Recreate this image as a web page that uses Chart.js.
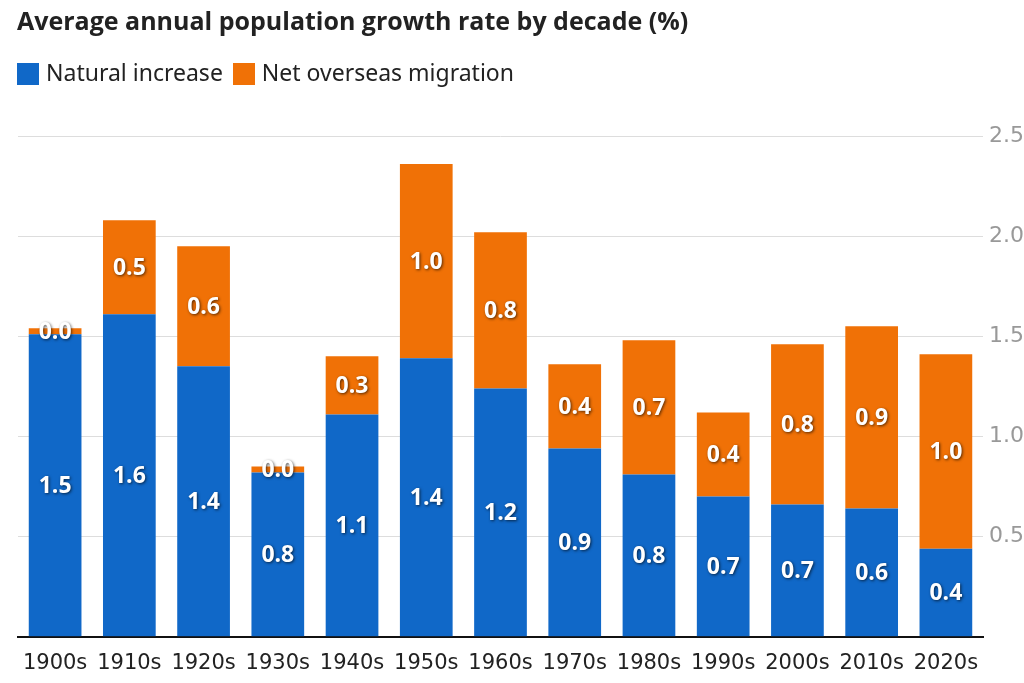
<!DOCTYPE html>
<html>
<head>
<meta charset="utf-8">
<script src="https://cdn.jsdelivr.net/npm/chart.js@4.4.0/dist/chart.umd.min.js"></script>
<style>
  html, body { margin: 0; padding: 0; background: #fff; }
  #wrap { position: relative; width: 1024px; height: 683px; }
  #growthChart { position: absolute; left: 0; top: 0; }
  .title { position: absolute; left: 17px; top: 3px; font: bold 25px "Open Sans", sans-serif; color: #222; white-space: nowrap; }
  .legend { position: absolute; left: 17px; top: 56px; font: 23px "Noto Sans", sans-serif; color: #222; white-space: nowrap; }
  .legend span.box { display: inline-block; width: 22px; height: 22px; vertical-align: -4px; margin-right: 7px; }
  .legend span.item { margin-right: 10px; }
</style>
</head>
<body>
<div id="wrap">
  <canvas id="growthChart" width="1024" height="683"></canvas>
  <div class="title">Average annual population growth rate by decade (%)</div>
  <div class="legend" id="legend"></div>
</div>
<script>
// Datos
const decades = ['1900s', '1910s', '1920s', '1930s', '1940s', '1950s', '1960s',
                 '1970s', '1980s', '1990s', '2000s', '2010s', '2020s'];
const naturalIncrease = [1.51, 1.61, 1.35, 0.82, 1.11, 1.39, 1.24, 0.94, 0.81, 0.70, 0.66, 0.64, 0.44];
const netMigration = [0.03, 0.47, 0.60, 0.03, 0.29, 0.97, 0.78, 0.42, 0.67, 0.42, 0.80, 0.91, 0.97];
const seriesNames = ['Natural increase', 'Net overseas migration'];
const yTicks = [0.5, 1.0, 1.5, 2.0, 2.5];

const BLUE = '#1068c8';
const ORANGE = '#f07106';

/**
 * Etiquetas blancas centradas en cada segmento
 */
const segmentLabels = {
    id: 'segmentLabels',
    afterDatasetsDraw(chart) {
        const ctx = chart.ctx;
        ctx.save();
        ctx.font = 'bold 23px "Open Sans", sans-serif';
        ctx.textAlign = 'center';
        ctx.textBaseline = 'middle';
        chart.data.datasets.forEach((ds, i) => {
            chart.getDatasetMeta(i).data.forEach((bar, j) => {
                const { x, y, base } = bar.getProps(['x', 'y', 'base'], true);
                const text = ds.data[j].toFixed(1);
                const cy = (y + base) / 2 + 1;
                ctx.shadowColor = 'rgba(0,0,0,0.65)';
                ctx.shadowBlur = 3;
                ctx.shadowOffsetX = 1;
                ctx.shadowOffsetY = 1;
                ctx.fillStyle = '#fff';
                ctx.fillText(text, x, cy);
            });
        });
        ctx.restore();
    }
};

const chart = new Chart(document.getElementById('growthChart'), {
    type: 'bar',
    data: {
        labels: decades,
        datasets: [
            { label: seriesNames[0], data: naturalIncrease, backgroundColor: BLUE },
            { label: seriesNames[1], data: netMigration, backgroundColor: ORANGE }
        ]
    },
    options: {
        responsive: false,
        animation: false,
        devicePixelRatio: 1,
        layout: { padding: { left: 18, right: 0, top: 136, bottom: 1 } },
        datasets: {
            bar: { categoryPercentage: 1.0, barPercentage: 0.71 }
        },
        plugins: {
            legend: { display: false },
            tooltip: { enabled: false }
        },
        scales: {
            x: {
                stacked: true,
                grid: { display: false },
                border: { display: true, color: '#111', width: 2 },
                ticks: {
                    color: '#222',
                    font: { family: '"DejaVu Sans", sans-serif', size: 21 },
                    maxRotation: 0,
                    autoSkip: false,
                    padding: 6
                }
            },
            y: {
                stacked: true,
                position: 'right',
                min: 0,
                max: 2.5,
                afterBuildTicks(axis) {
                    axis.ticks = [0].concat(yTicks).map(v => ({ value: v }));
                },
                afterFit(axis) {
                    axis.width = 41;
                },
                border: { display: false },
                grid: {
                    drawTicks: false,
                    color: c => c.tick.value === 0 ? 'rgba(0,0,0,0)' : '#dddddd',
                    lineWidth: 1
                },
                ticks: {
                    color: '#999',
                    padding: 6,
                    font: { family: '"DejaVu Sans", sans-serif', size: 22 },
                    callback: v => v === 0 ? '' : v.toFixed(1)
                }
            }
        }
    },
    plugins: [segmentLabels]
});

// Leyenda en HTML a partir de los datasets
const legendEl = document.getElementById('legend');
chart.data.datasets.forEach(ds => {
    const item = document.createElement('span');
    item.className = 'item';
    const box = document.createElement('span');
    box.className = 'box';
    box.style.background = ds.backgroundColor;
    item.appendChild(box);
    item.appendChild(document.createTextNode(ds.label));
    legendEl.appendChild(item);
});
</script>
</body>
</html>
